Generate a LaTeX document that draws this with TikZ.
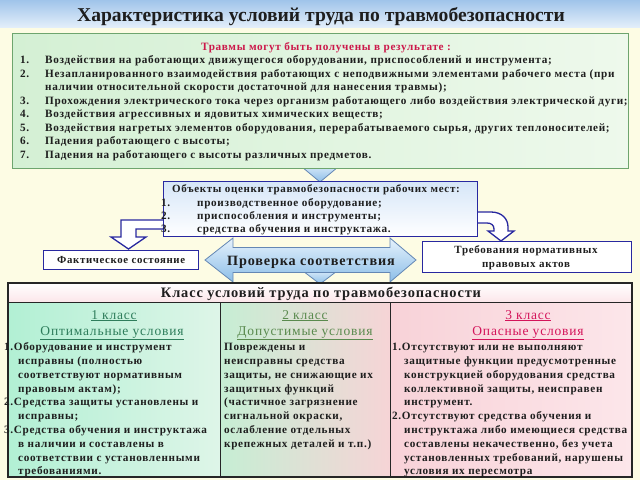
\documentclass[tikz,border=0pt]{standalone}
\usepackage{fontspec}
\setmainfont{Liberation Serif}
\newfontfamily\spfont[LetterSpace=6]{Liberation Serif}
\definecolor{bgc}{RGB}{253,252,228}
\definecolor{bandtop}{RGB}{160,196,234}
\definecolor{bandbot}{RGB}{226,238,250}
\definecolor{topgreen}{RGB}{110,165,110}
\definecolor{greenL}{RGB}{212,240,212}
\definecolor{greenR}{RGB}{238,249,236}
\definecolor{crimson}{RGB}{204,24,74}
\definecolor{navy}{RGB}{40,40,160}
\definecolor{arrblueT}{RGB}{230,242,252}
\definecolor{arrblueB}{RGB}{140,190,232}
\definecolor{arredge}{RGB}{100,135,180}
\definecolor{objL}{RGB}{214,230,248}
\definecolor{c1h}{RGB}{46,125,91}
\definecolor{c2h}{RGB}{90,138,78}
\definecolor{c3h}{RGB}{212,20,90}
\definecolor{mintA}{RGB}{178,240,212}
\definecolor{mintB}{RGB}{222,245,232}
\definecolor{mintC}{RGB}{198,238,212}
\definecolor{pinkA}{RGB}{246,212,214}
\definecolor{pinkB}{RGB}{248,210,216}
\definecolor{pinkC}{RGB}{252,230,234}
\definecolor{txt}{RGB}{30,30,30}
\tikzset{
  tb/.style={font=\spfont\bfseries\fontsize{11.2}{13}\selectfont, text=txt, anchor=base west, inner sep=0pt},
  tc/.style={font=\spfont\bfseries\fontsize{11.2}{13}\selectfont, text=txt, anchor=base west, inner sep=0pt},
  tobj/.style={font=\spfont\bfseries\fontsize{11.2}{13}\selectfont, text=txt, anchor=base west, inner sep=0pt},
  hd/.style={font=\spfont\fontsize{13.5}{15}\selectfont, anchor=base, inner sep=0pt},
  navybox/.style={draw=navy, line width=1.4pt, fill=white, inner sep=0pt},
  blockarrow/.style={draw=arredge, line width=0.8pt, top color=arrblueT, bottom color=arrblueB},
  bentarrow/.style={draw=navy, line width=1.3pt, fill=white, line join=miter},
  cell/.style={draw=black!85, line width=1pt},
}
\begin{document}
\begin{tikzpicture}[x=1pt,y=-1pt]
\useasboundingbox (0,0) rectangle (640,480);
\fill[bgc] (0,0) rectangle (640,480);
\shade[top color=bandtop, bottom color=bandbot] (0,0) rectangle (640,27);
\node[font=\bfseries\fontsize{19.6}{22}\selectfont, text=txt, anchor=base, inner sep=0pt] (title) at (321,21) {Характеристика условий труда по травмобезопасности};

% chevron from top box to objects box
\draw[blockarrow] (296,162) -- (344,162) -- (320,182) -- cycle;
% top box
\node[draw=topgreen, line width=1pt, left color=greenL, right color=greenR, minimum width=616pt, minimum height=135pt, anchor=north west, inner sep=0pt] (topbox) at (12,33) {};
\node[tb, text=crimson, anchor=base] (th) at (326,50) {Травмы могут быть получены в результате :};
\node[tb] (n1) at (20,63.5) {1.};
\node[tb] (l1) at (45,63.5) {Воздействия на работающих движущегося оборудовании, приспособлений и инструмента;};
\node[tb] (n2) at (20,77) {2.};
\node[tb] (l2) at (45,77) {Незапланированного взаимодействия работающих с неподвижными элементами рабочего места (при};
\node[tb] (l2b) at (45,90.5) {наличии относительной скорости достаточной для нанесения травмы);};
\node[tb] (n3) at (20,104) {3.};
\node[tb] (l3) at (45,104) {Прохождения электрического тока через организм работающего либо воздействия электрической дуги;};
\node[tb] (n4) at (20,117.5) {4.};
\node[tb] (l4) at (45,117.5) {Воздействия агрессивных и ядовитых химических веществ;};
\node[tb] (n5) at (20,131) {5.};
\node[tb] (l5) at (45,131) {Воздействия нагретых элементов оборудования, перерабатываемого сырья, других теплоносителей;};
\node[tb] (n6) at (20,144.5) {6.};
\node[tb] (l6) at (45,144.5) {Падения работающего с высоты;};
\node[tb] (n7) at (20,158) {7.};
\node[tb] (l7) at (45,158) {Падения на работающего с высоты различных предметов.};

% bent arrows (drawn before the objects box)
\draw[bentarrow] (170,220) -- (121,220) -- (121,237) -- (111,237) -- (128.5,249) -- (146,237) -- (136,237) -- (136,229) -- (170,229);
\draw[bentarrow] (470,212) -- (491,212) .. controls (502,212) and (508,219) .. (508,227) -- (508,231) -- (514,231) -- (501,241) -- (488,231) -- (494,231) -- (494,229) .. controls (494,225) and (491,223) .. (487,223) -- (470,223);

% objects box
\node[draw=navy, line width=1.4pt, top color=objL, bottom color=white, minimum width=314pt, minimum height=55pt, anchor=north west, inner sep=0pt] (obj) at (163,181) {};
\node[tobj, font=\spfont\bfseries\fontsize{11}{13}\selectfont] (oh) at (172,192.5) {Объекты оценки травмобезопасности рабочих мест:};
\node[tobj] (on1) at (161,206) {1.};
\node[tobj] (ol1) at (197,206) {производственное оборудование;};
\node[tobj] (on2) at (161,219.5) {2.};
\node[tobj] (ol2) at (197,219.5) {приспособления и инструменты;};
\node[tobj] (on3) at (161,232) {3.};
\node[tobj] (ol3) at (197,232) {средства обучения и инструктажа.};

% small boxes
\node[navybox, minimum width=155pt, minimum height=19pt, anchor=north west] (fact) at (43,250) {};
\node[tc, font=\spfont\bfseries\fontsize{10.8}{12}\selectfont, anchor=center] (factt) at (fact.center) {Фактическое состояние};
\node[navybox, minimum width=209pt, minimum height=31pt, anchor=north west] (req) at (422,241) {};
\node[tc, font=\spfont\bfseries\fontsize{11}{12}\selectfont, anchor=base] (req1) at (526,253.5) {Требования нормативных};
\node[tc, font=\spfont\bfseries\fontsize{11}{12}\selectfont, anchor=base] (req2) at (526,267.5) {правовых актов};

% check arrow
\draw[blockarrow] (299,268) -- (341,268) -- (320,284) -- cycle;
\draw[blockarrow] (205,260) -- (233,238) -- (233,247.5) -- (390,247.5) -- (390,238) -- (416,260) -- (390,282) -- (390,272.5) -- (233,272.5) -- (233,282) -- cycle;
\node[font=\spfont\bfseries\fontsize{14.2}{17}\selectfont, text=txt, anchor=base, inner sep=0pt] (chk) at (311,265) {Проверка соответствия};

% table
\shade[top color=white, bottom color=pinkC] (8,283) rectangle (632,302);
\shade[left color=mintA, right color=mintB] (8,302) rectangle (220,477);
\shade[left color=mintC, right color=pinkA] (220,302) rectangle (390,477);
\shade[left color=pinkB, right color=pinkC] (390,302) rectangle (632,477);
\draw[cell] (8,302) -- (632,302);
\draw[cell] (220,302) -- (220,477);
\draw[cell] (390,302) -- (390,477);
\draw[black!85, line width=1.6pt] (8,283) rectangle (632,477);
\node[font=\spfont\bfseries\fontsize{14.4}{16}\selectfont, text=txt, anchor=base, inner sep=0pt] (th2) at (321,297.5) {Класс условий труда по травмобезопасности};

% column 1
\node[hd, text=c1h] (h1a) at (114,319) {\underline{1 класс}};
\node[hd, text=c1h] (h1b) at (112,335) {\underline{Оптимальные условия}};
\node[tc] (a1) at (4,350) {1.Оборудование и инструмент};
\node[tc] (a2) at (18,364) {исправны (полностью};
\node[tc] (a3) at (18,378) {соответствуют нормативным};
\node[tc] (a4) at (18,392) {правовым актам);};
\node[tc] (a5) at (4,405.5) {2.Средства защиты установлены и};
\node[tc] (a6) at (18,419.5) {исправны;};
\node[tc] (a7) at (4,433) {3.Средства обучения и инструктажа};
\node[tc] (a8) at (18,447) {в наличии и  составлены в};
\node[tc] (a9) at (18,461) {соответствии с установленными};
\node[tc] (a10) at (18,474.5) {требованиями.};

% column 2
\node[hd, text=c2h] (h2a) at (305,319) {\underline{2 класс}};
\node[hd, text=c2h] (h2b) at (305,335) {\underline{Допустимые условия}};
\node[tc] (b1) at (224,350) {Повреждены и};
\node[tc] (b2) at (224,364) {неисправны средства};
\node[tc] (b3) at (224,378) {защиты, не снижающие их};
\node[tc] (b4) at (224,392) {защитных функций};
\node[tc] (b5) at (224,405.5) {(частичное загрязнение};
\node[tc] (b6) at (224,419.5) {сигнальной окраски,};
\node[tc] (b7) at (224,433) {ослабление отдельных};
\node[tc] (b8) at (224,447) {крепежных деталей и т.п.)};

% column 3
\node[hd, text=c3h] (h3a) at (528,319) {\underline{3 класс}};
\node[hd, text=c3h] (h3b) at (528,335) {\underline{Опасные условия}};
\node[tc] (c1) at (392,350) {1.Отсутствуют или не выполняют};
\node[tc] (c2) at (404,364) {защитные функции предусмотренные};
\node[tc] (c3) at (404,378) {конструкцией оборудования средства};
\node[tc] (c4) at (404,392) {коллективной защиты, неисправен};
\node[tc] (c5) at (404,405.5) {инструмент.};
\node[tc] (c6) at (392,419.5) {2.Отсутствуют средства обучения и};
\node[tc] (c7) at (404,433) {инструктажа либо имеющиеся средства};
\node[tc] (c8) at (404,447) {составлены некачественно, без учета};
\node[tc] (c9) at (404,461) {установленных  требований, нарушены};
\node[tc] (c10) at (404,474.5) {условия их пересмотра};
\end{tikzpicture}
\end{document}
